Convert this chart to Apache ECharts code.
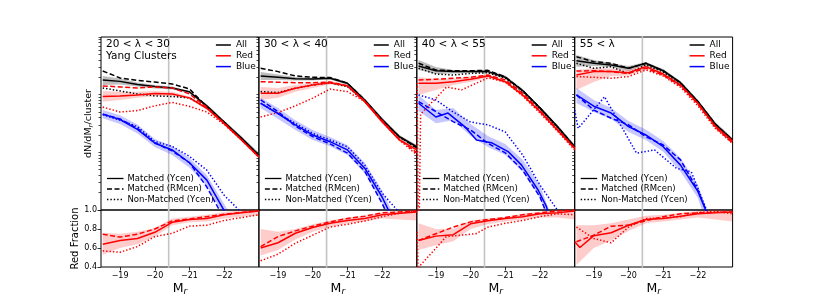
<!DOCTYPE html>
<html><head><meta charset="utf-8">
<script src="https://cdn.jsdelivr.net/npm/echarts@6/dist/echarts.min.js"></script>
<style>html,body{margin:0;padding:0;background:#fff}#c{width:814px;height:305px}</style>
</head><body><div id="c"></div>
<script>
// ---------------- DATA ----------------
const M_GRID = [-18.5, -19, -19.5, -20, -20.5, -21, -21.5, -22, -22.5, -23];
const X_TICKS = [-19, -20, -21, -22];
const Y_LOG_TICKS = [0.01,0.02,0.03,0.04,0.05,0.06,0.07,0.08,0.09,0.1,0.2,0.3,0.4,0.5,0.6,0.7,0.8,0.9,1,2,3,4,5,6,7,8,9,10];
const FRAC_TICKS = [0.4, 0.6, 0.8, 1.0];
const GRAY_LINE_M = -20.4;
const PANEL_LABELS = [['20 < λ < 30', 'Yang Clusters'], ['30 < λ < 40'], ['40 < λ < 55'], ['55 < λ']];
const COLOR_NAMES = ['All', 'Red', 'Blue'];
const STYLE_NAMES = ['Matched (Ycen)', 'Matched (RMcen)', 'Non-Matched (Ycen)'];

// Panel 1 : 20 < lambda < 30
const P1_ALL_YCEN  = [1.80, 1.70, 1.50, 1.39, 1.31, 1.12, 0.64, 0.335, 0.177, 0.090];
const P1_ALL_RMCEN = [2.57, 1.95, 1.76, 1.66, 1.53, 1.26, 0.61, 0.335, 0.170, 0.090];
const P1_ALL_NONM  = [1.31, 1.16, 1.03, 0.95, 0.93, 0.88, 0.59, 0.32, 0.170, 0.087];
const P1_ALL_LO    = [1.47, 1.50, 1.39, 1.28, 1.23, 1.05, 0.60, 0.315, 0.167, 0.083];
const P1_ALL_HI    = [2.11, 1.91, 1.63, 1.47, 1.39, 1.14, 0.68, 0.355, 0.19, 0.098];
const P1_RED_YCEN  = [0.93, 0.95, 0.99, 1.05, 1.03, 0.88, 0.58, 0.315, 0.164, 0.083];
const P1_RED_RMCEN = [1.42, 1.36, 1.31, 1.36, 1.31, 1.03, 0.60, 0.32, 0.164, 0.083];
const P1_RED_NONM  = [0.61, 0.50, 0.53, 0.64, 0.735, 0.625, 0.50, 0.305, 0.164, 0.083];
const P1_RED_LO    = [0.75, 0.81, 0.88, 0.95, 0.95, 0.83, 0.54, 0.30, 0.154, 0.077];
const P1_RED_HI    = [1.16, 1.12, 1.12, 1.16, 1.12, 0.93, 0.61, 0.335, 0.173, 0.090];
const P1_BLUE_YCEN  = [0.46, 0.37, 0.25, 0.145, 0.110, 0.066, 0.033, 0.0098, 0.003, 0.001];
const P1_BLUE_RMCEN = [0.46, 0.38, 0.26, 0.145, 0.106, 0.066, 0.025, 0.007, 0.002, 0.001];
const P1_BLUE_NONM  = [0.45, 0.36, 0.28, 0.154, 0.127, 0.085, 0.049, 0.018, 0.009, 0.003];
const P1_BLUE_LO    = [0.39, 0.31, 0.212, 0.124, 0.090, 0.054, 0.026, 0.0079, 0.002, 0.001];
const P1_BLUE_HI    = [0.54, 0.44, 0.305, 0.170, 0.129, 0.080, 0.040, 0.0127, 0.004, 0.002];
const P1_FRAC_YCEN  = [0.64, 0.68, 0.70, 0.765, 0.87, 0.90, 0.91, 0.95, 0.97, 0.99];
const P1_FRAC_RMCEN = [0.745, 0.715, 0.745, 0.80, 0.885, 0.905, 0.93, 0.955, 0.975, 0.99];
const P1_FRAC_NONM  = [0.57, 0.555, 0.615, 0.72, 0.755, 0.83, 0.84, 0.89, 0.92, 0.95];
const P1_FRAC_LO    = [0.53, 0.60, 0.64, 0.72, 0.84, 0.87, 0.88, 0.91, 0.93, 0.94];
const P1_FRAC_HI    = [0.76, 0.75, 0.77, 0.81, 0.91, 0.93, 0.95, 0.98, 1.0, 1.0];

// Panel 2 : 30 < lambda < 40
const P2_ALL_YCEN  = [2.11, 2.00, 1.89, 1.87, 1.93, 1.58, 0.81, 0.375, 0.187, 0.125];
const P2_ALL_RMCEN = [2.87, 2.51, 2.11, 2.00, 1.98, 1.58, 0.81, 0.36, 0.187, 0.119];
const P2_ALL_NONM  = [1.13, 1.09, 1.29, 1.47, 1.61, 1.38, 0.76, 0.355, 0.183, 0.119];
const P2_ALL_LO    = [1.80, 1.80, 1.76, 1.76, 1.84, 1.47, 0.76, 0.35, 0.173, 0.114];
const P2_ALL_HI    = [2.47, 2.24, 2.03, 1.99, 2.03, 1.66, 0.86, 0.40, 0.20, 0.134];
const P2_RED_YCEN  = [1.06, 1.06, 1.29, 1.47, 1.61, 1.42, 0.76, 0.34, 0.164, 0.110];
const P2_RED_RMCEN = [1.68, 1.64, 1.61, 1.61, 1.66, 1.42, 0.78, 0.355, 0.168, 0.098];
const P2_RED_NONM  = [0.41, 0.49, 0.64, 0.87, 1.25, 1.13, 0.76, 0.34, 0.164, 0.090];
const P2_RED_LO    = [0.81, 0.88, 1.12, 1.31, 1.50, 1.34, 0.71, 0.315, 0.154, 0.102];
const P2_RED_HI    = [1.36, 1.31, 1.47, 1.60, 1.73, 1.50, 0.81, 0.36, 0.173, 0.119];
const P2_BLUE_YCEN  = [0.71, 0.47, 0.30, 0.200, 0.153, 0.110, 0.053, 0.0168, 0.004, 0.001];
const P2_BLUE_RMCEN = [0.81, 0.51, 0.285, 0.187, 0.14, 0.097, 0.047, 0.013, 0.003, 0.001];
const P2_BLUE_NONM  = [0.71, 0.47, 0.32, 0.213, 0.164, 0.125, 0.060, 0.0196, 0.009, 0.003];
const P2_BLUE_LO    = [0.59, 0.38, 0.244, 0.164, 0.127, 0.090, 0.043, 0.0132, 0.002, 0.001];
const P2_BLUE_HI    = [0.88, 0.59, 0.36, 0.244, 0.185, 0.134, 0.066, 0.022, 0.005, 0.002];
const P2_FRAC_YCEN  = [0.60, 0.655, 0.755, 0.815, 0.86, 0.89, 0.91, 0.95, 0.965, 0.98];
const P2_FRAC_RMCEN = [0.615, 0.72, 0.78, 0.83, 0.875, 0.91, 0.935, 0.97, 0.98, 0.99];
const P2_FRAC_NONM  = [0.465, 0.535, 0.65, 0.735, 0.82, 0.85, 0.885, 0.93, 0.965, 0.99];
const P2_FRAC_LO    = [0.52, 0.58, 0.69, 0.77, 0.82, 0.86, 0.88, 0.91, 0.90, 0.89];
const P2_FRAC_HI    = [0.80, 0.77, 0.80, 0.85, 0.89, 0.92, 0.94, 0.97, 0.99, 1.0];

// Panel 3 : 40 < lambda < 55
const P3_ALL_YCEN  = [3.14, 2.60, 2.51, 2.51, 2.51, 2.00, 1.18, 0.59, 0.28, 0.125];
const P3_ALL_RMCEN = [3.51, 2.68, 2.60, 2.60, 2.64, 2.03, 1.18, 0.59, 0.28, 0.125];
const P3_ALL_NONM  = [2.87, 2.28, 2.19, 2.34, 2.40, 1.93, 1.13, 0.57, 0.27, 0.122];
const P3_ALL_LO    = [2.68, 2.28, 2.33, 2.38, 2.36, 1.87, 1.09, 0.54, 0.255, 0.114];
const P3_ALL_HI    = [3.99, 3.02, 2.68, 2.64, 2.65, 2.15, 1.26, 0.62, 0.30, 0.137];
const P3_RED_YCEN  = [1.58, 1.58, 1.68, 1.85, 2.11, 1.68, 0.99, 0.51, 0.244, 0.117];
const P3_RED_RMCEN = [1.80, 1.85, 1.93, 2.00, 2.19, 1.80, 1.06, 0.53, 0.25, 0.119];
const P3_RED_NONM_M = [-18.46, -18.5, -18.56, -19.31, -19.74, -20.5, -21, -21.5, -22, -22.5, -23];
const P3_RED_NONM  = [1.60, 0.001, 0.46, 1.36, 1.21, 1.95, 1.66, 0.95, 0.48, 0.234, 0.110];
const P3_RED_LO    = [0.99, 1.21, 1.47, 1.66, 1.99, 1.56, 0.93, 0.47, 0.23, 0.110];
const P3_RED_HI    = [2.03, 1.87, 1.87, 2.03, 2.24, 1.80, 1.05, 0.54, 0.255, 0.127];
const P3_BLUE_YCEN_M = [-18.5, -19, -19.35, -19.83, -20.17, -20.6, -21.08, -21.47, -21.95, -22.19, -22.5];
const P3_BLUE_YCEN  = [0.71, 0.41, 0.48, 0.28, 0.164, 0.147, 0.103, 0.060, 0.022, 0.0113, 0.002];
const P3_BLUE_RMCEN = [0.76, 0.51, 0.34, 0.244, 0.143, 0.098, 0.049, 0.0168, 0.003, 0.001];
const P3_BLUE_NONM  = [0.99, 0.81, 0.50, 0.335, 0.30, 0.225, 0.090, 0.027, 0.010, 0.003];
const P3_BLUE_LO    = [0.52, 0.32, 0.36, 0.192, 0.124, 0.090, 0.046, 0.0162, 0.002, 0.001];
const P3_BLUE_HI    = [0.99, 0.54, 0.59, 0.31, 0.192, 0.140, 0.074, 0.027, 0.004, 0.002];
const P3_FRAC_YCEN  = [0.68, 0.725, 0.74, 0.855, 0.887, 0.91, 0.93, 0.96, 0.97, 0.99];
const P3_FRAC_RMCEN = [0.68, 0.75, 0.82, 0.875, 0.90, 0.92, 0.95, 0.97, 0.99, 1.0];
const P3_FRAC_NONM_M = [-18.46, -18.5, -18.56, -19.3, -20.15, -20.5, -21, -21.5, -22, -22.5, -23];
const P3_FRAC_NONM  = [0.77, 0.2, 0.42, 0.72, 0.75, 0.82, 0.86, 0.89, 0.93, 0.96, 0.95];
const P3_FRAC_LO    = [0.58, 0.63, 0.67, 0.80, 0.85, 0.88, 0.90, 0.92, 0.92, 0.90];
const P3_FRAC_HI    = [0.86, 0.80, 0.80, 0.89, 0.91, 0.93, 0.96, 0.98, 1.0, 1.0];

// Panel 4 : 55 < lambda
const P4_ALL_YCEN  = [3.88, 3.50, 3.27, 2.87, 3.50, 2.60, 1.61, 0.76, 0.31, 0.164];
const P4_ALL_RMCEN = [4.55, 3.73, 3.50, 2.87, 3.50, 2.60, 1.61, 0.76, 0.31, 0.164];
const P4_ALL_NONM  = [3.50, 2.87, 3.05, 2.33, 3.27, 2.47, 1.53, 0.72, 0.285, 0.151];
const P4_ALL_LO    = [3.06, 3.14, 3.02, 2.57, 3.27, 2.42, 1.50, 0.70, 0.285, 0.151];
const P4_ALL_HI    = [4.88, 3.99, 3.54, 3.14, 3.69, 2.79, 1.73, 0.81, 0.335, 0.177];
const P4_RED_YCEN  = [2.19, 2.51, 2.51, 2.40, 3.06, 2.28, 1.47, 0.71, 0.285, 0.157];
const P4_RED_RMCEN = [2.57, 2.60, 2.51, 2.34, 2.87, 2.19, 1.42, 0.69, 0.275, 0.145];
const P4_RED_NONM  = [2.06, 2.00, 1.93, 2.06, 2.68, 2.11, 1.34, 0.64, 0.26, 0.143];
const P4_RED_LO    = [1.21, 1.66, 2.11, 2.15, 2.79, 2.11, 1.36, 0.66, 0.26, 0.140];
const P4_RED_HI    = [2.68, 2.90, 2.84, 2.68, 3.33, 2.42, 1.56, 0.76, 0.31, 0.167];
const P4_BLUE_YCEN  = [0.99, 0.63, 0.48, 0.28, 0.200, 0.125, 0.060, 0.021, 0.004, 0.001];
const P4_BLUE_RMCEN = [0.99, 0.54, 0.39, 0.30, 0.187, 0.134, 0.074, 0.022, 0.004, 0.001];
const P4_BLUE_NONM_M = [-18.45, -18.55, -19.31, -20.23, -20.75, -21.38, -21.81, -22.25, -22.5];
const P4_BLUE_NONM  = [0.54, 0.26, 0.92, 0.097, 0.110, 0.053, 0.046, 0.010, 0.003];
const P4_BLUE_LO    = [0.72, 0.50, 0.38, 0.225, 0.164, 0.102, 0.046, 0.0162, 0.002, 0.001];
const P4_BLUE_HI    = [1.31, 0.81, 0.59, 0.35, 0.25, 0.157, 0.080, 0.027, 0.004, 0.002];
const P4_FRAC_YCEN_M = [-18.45, -18.6, -19, -19.5, -20, -20.5, -21, -21.5, -22, -22.5, -23];
const P4_FRAC_YCEN  = [0.665, 0.605, 0.73, 0.76, 0.84, 0.90, 0.91, 0.935, 0.96, 0.97, 0.98];
const P4_FRAC_RMCEN = [0.665, 0.735, 0.83, 0.84, 0.887, 0.93, 0.96, 0.97, 0.975, 0.98];
const P4_FRAC_NONM  = [0.82, 0.70, 0.655, 0.82, 0.91, 0.915, 0.93, 0.975, 0.985, 0.96];
const P4_FRAC_LO    = [0.42, 0.60, 0.68, 0.78, 0.86, 0.88, 0.90, 0.92, 0.90, 0.88];
const P4_FRAC_HI    = [0.84, 0.84, 0.86, 0.90, 0.94, 0.95, 0.97, 0.99, 1.0, 1.0];

// ---------------- LAYOUT / STYLE ----------------
const FONT = 'DejaVu Sans';
const LEFT0 = 101, PW = 157.9, TOP = 37, TOPH = 173, BOTH = 57;
const BLACK = '#000000', RED = '#ff0000', BLUE = '#0000ff';
const DASHES = {s: 'solid', d: [5, 2.5], o: [1.4, 2]};
const BAND_COLORS = {k: 'rgba(110,110,110,0.45)', r: 'rgba(255,0,0,0.2)', b: 'rgba(0,0,255,0.22)'};

const G = M_GRID;
const PANELS = [
  {
    lines: [[BLACK,'s',G,P1_ALL_YCEN],[BLACK,'d',G,P1_ALL_RMCEN],[BLACK,'o',G,P1_ALL_NONM],
            [RED,'s',G,P1_RED_YCEN],[RED,'d',G,P1_RED_RMCEN],[RED,'o',G,P1_RED_NONM],
            [BLUE,'s',G,P1_BLUE_YCEN],[BLUE,'d',G,P1_BLUE_RMCEN],[BLUE,'o',G,P1_BLUE_NONM]],
    bands: [['k',G,P1_ALL_LO,P1_ALL_HI],['r',G,P1_RED_LO,P1_RED_HI],['b',G,P1_BLUE_LO,P1_BLUE_HI]],
    frac: [['s',G,P1_FRAC_YCEN],['d',G,P1_FRAC_RMCEN],['o',G,P1_FRAC_NONM]],
    fracBand: [G,P1_FRAC_LO,P1_FRAC_HI]
  },
  {
    lines: [[BLACK,'s',G,P2_ALL_YCEN],[BLACK,'d',G,P2_ALL_RMCEN],[BLACK,'o',G,P2_ALL_NONM],
            [RED,'s',G,P2_RED_YCEN],[RED,'d',G,P2_RED_RMCEN],[RED,'o',G,P2_RED_NONM],
            [BLUE,'s',G,P2_BLUE_YCEN],[BLUE,'d',G,P2_BLUE_RMCEN],[BLUE,'o',G,P2_BLUE_NONM]],
    bands: [['k',G,P2_ALL_LO,P2_ALL_HI],['r',G,P2_RED_LO,P2_RED_HI],['b',G,P2_BLUE_LO,P2_BLUE_HI]],
    frac: [['s',G,P2_FRAC_YCEN],['d',G,P2_FRAC_RMCEN],['o',G,P2_FRAC_NONM]],
    fracBand: [G,P2_FRAC_LO,P2_FRAC_HI]
  },
  {
    lines: [[BLACK,'s',G,P3_ALL_YCEN],[BLACK,'d',G,P3_ALL_RMCEN],[BLACK,'o',G,P3_ALL_NONM],
            [RED,'s',G,P3_RED_YCEN],[RED,'d',G,P3_RED_RMCEN],[RED,'o',P3_RED_NONM_M,P3_RED_NONM],
            [BLUE,'s',P3_BLUE_YCEN_M,P3_BLUE_YCEN],[BLUE,'d',G,P3_BLUE_RMCEN],[BLUE,'o',G,P3_BLUE_NONM]],
    bands: [['k',G,P3_ALL_LO,P3_ALL_HI],['r',G,P3_RED_LO,P3_RED_HI],['b',G,P3_BLUE_LO,P3_BLUE_HI]],
    frac: [['s',G,P3_FRAC_YCEN],['d',G,P3_FRAC_RMCEN],['o',P3_FRAC_NONM_M,P3_FRAC_NONM]],
    fracBand: [G,P3_FRAC_LO,P3_FRAC_HI]
  },
  {
    lines: [[BLACK,'s',G,P4_ALL_YCEN],[BLACK,'d',G,P4_ALL_RMCEN],[BLACK,'o',G,P4_ALL_NONM],
            [RED,'s',G,P4_RED_YCEN],[RED,'d',G,P4_RED_RMCEN],[RED,'o',G,P4_RED_NONM],
            [BLUE,'s',G,P4_BLUE_YCEN],[BLUE,'d',G,P4_BLUE_RMCEN],[BLUE,'o',P4_BLUE_NONM_M,P4_BLUE_NONM]],
    bands: [['k',G,P4_ALL_LO,P4_ALL_HI],['r',G,P4_RED_LO,P4_RED_HI],['b',G,P4_BLUE_LO,P4_BLUE_HI]],
    frac: [['s',P4_FRAC_YCEN_M,P4_FRAC_YCEN],['d',G,P4_FRAC_RMCEN],['o',G,P4_FRAC_NONM]],
    fracBand: [G,P4_FRAC_LO,P4_FRAC_HI]
  }
];

// ---------------- BUILD ----------------
const grids = [], xAxes = [], yAxes = [], series = [], graphics = [];

function lineSeries(g, xs, ys, color, dashKey, z) {
  return {type: 'line', xAxisIndex: g, yAxisIndex: g, data: xs.map((x, i) => [x, ys[i]]),
    symbol: 'none', silent: true, animation: false, clip: true, z: z,
    lineStyle: {color: color, width: 1.5, type: DASHES[dashKey], cap: 'butt'}};
}
function bandSeries(g, xs, lo, hi, fill) {
  return {type: 'custom', xAxisIndex: g, yAxisIndex: g, silent: true, animation: false, z: 1,
    data: xs.map((x, i) => [x, lo[i], hi[i]]),
    renderItem: function (params, api) {
      if (params.dataIndex !== 0) return null;
      const pts = [];
      for (let i = 0; i < xs.length; i++) pts.push(api.coord([xs[i], hi[i]]));
      for (let i = xs.length - 1; i >= 0; i--) pts.push(api.coord([xs[i], lo[i]]));
      const cs = params.coordSys;
      return {type: 'polygon', shape: {points: pts}, style: {fill: fill, stroke: null},
        clipPath: {type: 'rect', shape: {x: cs.x, y: cs.y, width: cs.width, height: cs.height}}};
    }};
}

const subRich = {
  n: {fontFamily: FONT, fontSize: 9.5, color: '#000', lineHeight: 13},
  s: {fontFamily: FONT, fontSize: 7, fontStyle: 'italic', color: '#000', lineHeight: 7, verticalAlign: 'bottom'},
  m: {fontFamily: FONT, fontSize: 12.5, color: '#000', lineHeight: 15},
  t: {fontFamily: FONT, fontSize: 9, fontStyle: 'italic', color: '#000', lineHeight: 9, verticalAlign: 'bottom'}
};

PANELS.forEach((p, i) => {
  const left = LEFT0 + i * PW;
  const gt = 2 * i, gb = 2 * i + 1;
  grids.push({left: left, top: TOP, width: PW, height: TOPH, show: true, borderColor: '#000', borderWidth: 1, backgroundColor: 'transparent'});
  grids.push({left: left, top: TOP + TOPH, width: PW, height: BOTH, show: true, borderColor: '#000', borderWidth: 1, backgroundColor: 'transparent'});

  // x axes
  xAxes.push({type: 'value', gridIndex: gt, min: -23, max: -18.45, inverse: true,
    axisLine: {show: false}, splitLine: {show: false}, axisTick: {show: false}, axisLabel: {show: false}});
  xAxes.push({type: 'value', gridIndex: gb, min: -23, max: -18.45, inverse: true,
    axisLine: {show: false}, splitLine: {show: false},
    axisTick: {show: true, inside: false, length: 3.5, customValues: X_TICKS, lineStyle: {color: '#000', width: 0.8}},
    axisLabel: {show: true, customValues: X_TICKS, margin: 5, fontFamily: FONT, fontSize: 8, color: '#000',
      formatter: v => '\u2212' + Math.abs(v)},
    name: '{m|M}{t|r}', nameLocation: 'middle', nameGap: 14,
    nameTextStyle: {rich: subRich}});

  // y axes
  yAxes.push({type: 'log', logBase: 10, gridIndex: gt, min: 0.01, max: 10,
    axisLine: {show: false}, splitLine: {show: false}, axisLabel: {show: false},
    axisTick: {show: true, inside: false, length: 2.5, customValues: Y_LOG_TICKS, lineStyle: {color: '#000', width: 0.7}},
    name: i === 0 ? '{n|dN/dM}{s|r}{n|/cluster}' : '', nameLocation: 'middle', nameRotate: 90, nameGap: 6,
    nameTextStyle: {rich: subRich}});
  yAxes.push({type: 'value', gridIndex: gb, min: 0.4, max: 1.0, interval: 0.2,
    axisLine: {show: false}, splitLine: {show: false},
    axisTick: {show: i === 0, inside: false, length: 3.5, lineStyle: {color: '#000', width: 0.8}},
    axisLabel: {show: i === 0, fontFamily: FONT, fontSize: 8, color: '#000', margin: 4, formatter: v => v.toFixed(1)},
    name: i === 0 ? 'Red Fraction' : '', nameLocation: 'middle', nameRotate: 90, nameGap: 20,
    nameTextStyle: {fontFamily: FONT, fontSize: 10, color: '#000'}});

  // gray reference line
  series.push({type: 'line', xAxisIndex: gt, yAxisIndex: gt, data: [[GRAY_LINE_M, 0.001], [GRAY_LINE_M, 1000]],
    symbol: 'none', silent: true, animation: false, clip: true, z: 0, lineStyle: {color: '#c4c4c4', width: 1.6}});
  series.push({type: 'line', xAxisIndex: gb, yAxisIndex: gb, data: [[GRAY_LINE_M, 0], [GRAY_LINE_M, 2]],
    symbol: 'none', silent: true, animation: false, clip: true, z: 0, lineStyle: {color: '#c4c4c4', width: 1.6}});

  p.bands.forEach(b => series.push(bandSeries(gt, b[1], b[2], b[3], BAND_COLORS[b[0]])));
  p.lines.forEach((l, k) => series.push(lineSeries(gt, l[2], l[3], l[0], l[1], 3 + Math.floor(k / 3))));
  series.push(bandSeries(gb, p.fracBand[0], p.fracBand[1], p.fracBand[2], BAND_COLORS.r));
  p.frac.forEach(f => series.push(lineSeries(gb, f[1], f[2], RED, f[0], 4)));

  // panel label
  PANEL_LABELS[i].forEach((t, j) => graphics.push({type: 'text', x: left + 5, y: 44.5 + j * 11.5, z: 50,
    style: {text: t, fontFamily: FONT, fontSize: 10.5, fill: '#000', verticalAlign: 'middle'}}));
  // colour legend (top right)
  [BLACK, RED, BLUE].forEach((c, j) => {
    const y = 45 + j * 10.8;
    graphics.push({type: 'line', z: 50, shape: {x1: left + PW - 43, y1: y, x2: left + PW - 28, y2: y},
      style: {stroke: c, lineWidth: 1.5}});
    graphics.push({type: 'text', z: 50, x: left + PW - 23, y: y,
      style: {text: COLOR_NAMES[j], fontFamily: FONT, fontSize: 9, fill: '#000', verticalAlign: 'middle'}});
  });
  // style legend (bottom left)
  ['s', 'd', 'o'].forEach((k, j) => {
    const y = 178.5 + j * 10.5;
    graphics.push({type: 'line', z: 50, shape: {x1: left + 6, y1: y, x2: left + 22.5, y2: y},
      style: {stroke: '#000', lineWidth: 1.3, lineDash: k === 's' ? null : DASHES[k]}});
    graphics.push({type: 'text', z: 50, x: left + 26.5, y: y,
      style: {text: STYLE_NAMES[j], fontFamily: FONT, fontSize: 8.5, fill: '#000', verticalAlign: 'middle'}});
  });
});

const chart = echarts.init(document.getElementById('c'), null, {renderer: 'canvas'});
chart.setOption({
  animation: false,
  backgroundColor: '#ffffff',
  grid: grids, xAxis: xAxes, yAxis: yAxes, series: series, graphic: graphics
});
</script></body></html>
